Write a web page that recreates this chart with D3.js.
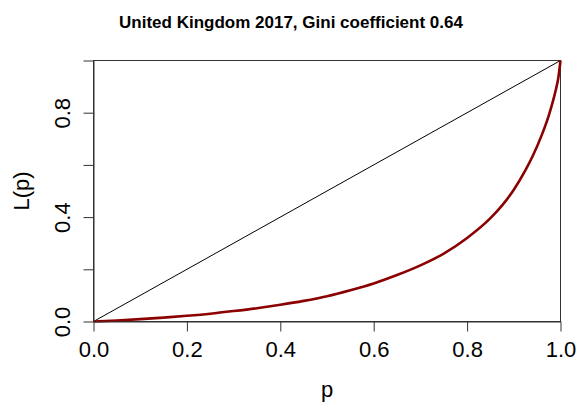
<!DOCTYPE html>
<html>
<head>
<meta charset="utf-8">
<script src="https://cdn.jsdelivr.net/npm/d3@7"></script>
<style>
  html, body { margin: 0; padding: 0; background: #fff; }
  svg { display: block; }
  text { font-family: "Liberation Sans", Arial, sans-serif; fill: #000; }
</style>
</head>
<body>
<svg id="chart" width="586" height="407"></svg>
<script>
// Lorenz curve: cumulative population share p vs cumulative wealth share L(p)
const popShare = [0, 0.05, 0.10, 0.15, 0.20, 0.25, 0.30, 0.35, 0.40, 0.45, 0.50,
                  0.55, 0.60, 0.65, 0.70, 0.75, 0.80, 0.85, 0.875, 0.90, 0.925,
                  0.94, 0.96, 0.975, 0.985, 0.99, 0.995, 1.0];
const wealthShare = [0, 0.004, 0.009, 0.015, 0.022, 0.030, 0.040, 0.051, 0.064, 0.079, 0.097,
                     0.120, 0.146, 0.178, 0.215, 0.260, 0.320, 0.396, 0.445, 0.505, 0.580,
                     0.632, 0.715, 0.790, 0.852, 0.888, 0.930, 1.0];
const xTicks = [0, 0.2, 0.4, 0.6, 0.8, 1.0];
const yTicks = [0, 0.2, 0.4, 0.6, 0.8, 1.0];
const yTickLabels = ["0.0", "", "0.4", "", "0.8", ""];
const titleText = "United Kingdom 2017, Gini coefficient 0.64";

const svg = d3.select("#chart");
const x = d3.scaleLinear().domain([0, 1]).range([93.5, 560.5]);
const y = d3.scaleLinear().domain([0, 1]).range([321.5, 60.5]);

// plot box
svg.append("rect")
  .attr("x", x(0)).attr("y", y(1))
  .attr("width", x(1) - x(0)).attr("height", y(0) - y(1))
  .attr("fill", "none").attr("stroke", "#333").attr("stroke-width", 1);

// line of equality
svg.append("line")
  .attr("x1", x(0)).attr("y1", y(0)).attr("x2", x(1)).attr("y2", y(1))
  .attr("stroke", "#000").attr("stroke-width", 1);

// Lorenz curve
const pts = popShare.map((p, i) => [p, wealthShare[i]]);
svg.append("path")
  .datum(pts)
  .attr("fill", "none")
  .attr("stroke", "#8b0000")
  .attr("stroke-width", 2.6)
  .attr("stroke-linejoin", "round")
  .attr("d", d3.line().x(d => x(d[0])).y(d => y(d[1])).curve(d3.curveMonotoneX));

// x axis
const xAxis = svg.append("g")
  .attr("transform", `translate(0,${y(0)})`)
  .call(d3.axisBottom(x).tickValues(xTicks).tickSize(10).tickSizeOuter(0).tickPadding(0)
        .tickFormat(d3.format(".1f")));
xAxis.select(".domain").attr("stroke", "#333");
xAxis.selectAll(".tick line").attr("stroke", "#333");
xAxis.selectAll(".tick text")
  .attr("y", 35.5).attr("dy", null)
  .style("font-size", "22px").attr("fill", "#000");

// y axis
const yAxis = svg.append("g")
  .attr("transform", `translate(${x(0)},0)`)
  .call(d3.axisLeft(y).tickValues(yTicks).tickSize(10).tickSizeOuter(0).tickPadding(0)
        .tickFormat((d, i) => yTickLabels[i]));
yAxis.select(".domain").attr("stroke", "#333");
yAxis.selectAll(".tick line").attr("stroke", "#333");
yAxis.selectAll(".tick text")
  .attr("x", null).attr("dy", null)
  .attr("text-anchor", "middle")
  .attr("transform", "translate(-23.5,0) rotate(-90)")
  .style("font-size", "22px").attr("fill", "#000");

// axis titles
svg.append("text")
  .attr("x", (x(0) + x(1)) / 2).attr("y", 397)
  .attr("text-anchor", "middle")
  .style("font-size", "22px")
  .text("p");
svg.append("text")
  .attr("transform", `translate(29,${(y(0) + y(1)) / 2}) rotate(-90)`)
  .attr("text-anchor", "middle")
  .style("font-size", "22px")
  .text("L(p)");

// title
svg.append("text")
  .attr("x", 291).attr("y", 28)
  .attr("text-anchor", "middle")
  .style("font-size", "17px").style("font-weight", "bold")
  .text(titleText);
</script>
</body>
</html>
